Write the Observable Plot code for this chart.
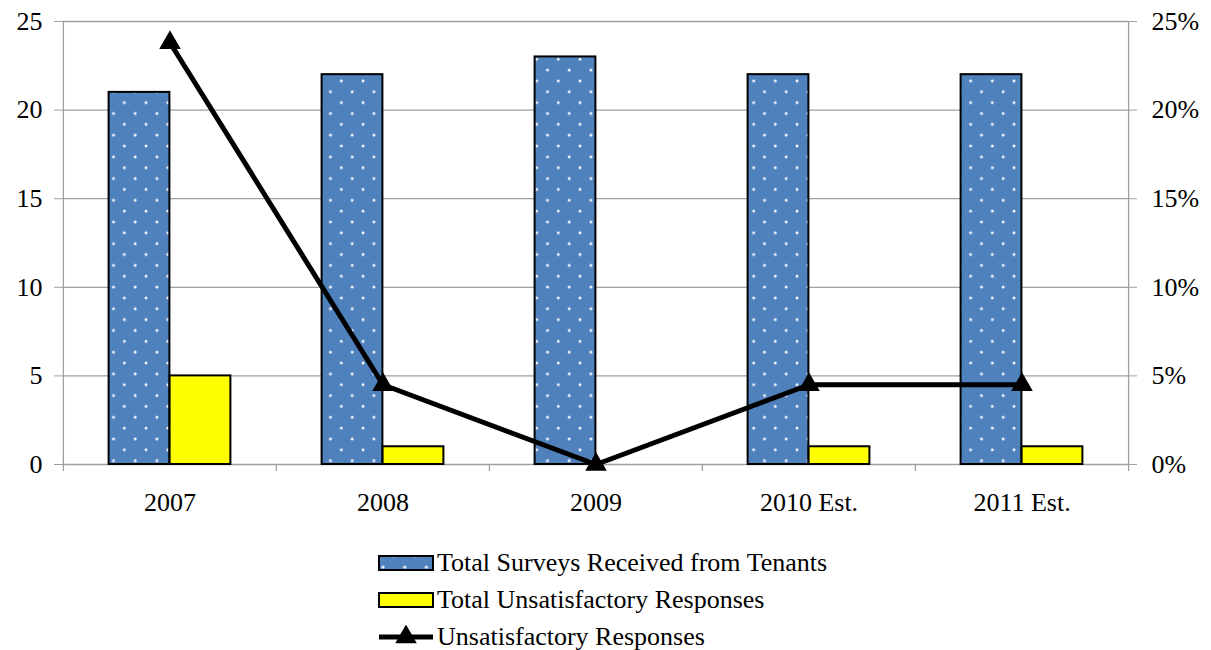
<!DOCTYPE html>
<html>
<head>
<meta charset="utf-8">
<script src="https://cdn.jsdelivr.net/npm/d3@7"></script>
<script src="https://cdn.jsdelivr.net/npm/@observablehq/plot@0.6"></script>
<style>
  body { margin: 0; background: #fff; font-family: 'Liberation Serif', serif; }
  #legend { margin-top: 14px; padding-left: 378px; font-size: 26px; line-height: 37px; color: #000; font-family: 'Liberation Serif', serif !important; }
  .item { display: flex; align-items: center; height: 37px; }
  .item svg { margin-right: 3px; }
  svg text { font-family: 'Liberation Serif', serif !important; }
</style>
</head>
<body>
<div id="chart"></div>
<div id="legend"></div>
<script>
const years = ["2007", "2008", "2009", "2010 Est.", "2011 Est."];
const totalSurveys = [21, 22, 23, 22, 22];
const unsatisfactory = [5, 1, 0, 1, 1];
const unsatPct = [23.8, 4.5, 0, 4.5, 4.5]; // percent
const yTicks = [0, 5, 10, 15, 20, 25];

const rows = years.map((y, i) => ({year: y, total: totalSurveys[i], unsat: unsatisfactory[i], pct: unsatPct[i]}));

const W = 1211, H = 530, mL = 62, mR = 83, mT = 21, mB = 66;
const bw = (W - mL - mR) / years.length;
const half = bw / 2;
const barW = 61;
const gray = "#a0a0a0";
const FONT = "'Liberation Serif', serif";

const plot = Plot.plot({
  width: W, height: H,
  marginLeft: mL, marginRight: mR, marginTop: mT, marginBottom: mB,
  style: {fontFamily: FONT, fontSize: "26px", color: "#000", background: "#fff"},
  x: {domain: years, padding: 0, label: null},
  y: {domain: [0, 25], label: null},
  marks: [
    Plot.ruleY(yTicks, {stroke: gray, strokeWidth: 1.3}),
    Plot.ruleX(years, {x: d => d, y1: -0.4, y2: 0, dx: -half, stroke: gray, strokeWidth: 1.3}),
    Plot.ruleX([years[0]], {x: d => d, y1: 0, y2: 25, dx: -half, stroke: gray, strokeWidth: 1.3}),
    Plot.ruleX([years[years.length - 1]], {x: d => d, y1: -0.4, y2: 25, dx: half, stroke: gray, strokeWidth: 1.3}),
    Plot.axisY({anchor: "left", ticks: yTicks, tickSize: 8, tickPadding: 12, stroke: gray, fontSize: 26, label: null}),
    Plot.axisY({anchor: "right", ticks: yTicks, tickSize: 8, tickPadding: 15, stroke: gray, fontSize: 26, label: null, tickFormat: d => d + "%"}),
    Plot.axisX({tickSize: 0, tickPadding: 28, fontSize: 26, label: null}),
    Plot.barY(rows, {x: "year", y: "total", fill: "url(#dots)", stroke: "#000", strokeWidth: 2,
      insetLeft: half - barW, insetRight: half}),
    Plot.barY(rows, {x: "year", y: "unsat", fill: "#ffff00", stroke: "#000", strokeWidth: 2,
      insetLeft: half, insetRight: half - barW}),
    Plot.line(rows, {x: "year", y: "pct", stroke: "#000", strokeWidth: 5}),
    Plot.dot(rows, {x: "year", y: "pct", symbol: "triangle", r: 8, fill: "#000", stroke: "none"})
  ]
});
d3.select(plot).style("font-family", FONT).selectAll("text").style("font-family", FONT);

const defs = d3.select(plot).insert("defs", ":first-child");
const pat = defs.append("pattern").attr("id", "dots").attr("patternUnits", "userSpaceOnUse")
  .attr("width", 21.7).attr("height", 21.7);
pat.append("rect").attr("width", 21.7).attr("height", 21.7).attr("fill", "#4f81bd");
pat.append("circle").attr("cx", 5).attr("cy", 5).attr("r", 1.5).attr("fill", "#f4f7fc");
pat.append("circle").attr("cx", 15.85).attr("cy", 15.85).attr("r", 1.5).attr("fill", "#f4f7fc");
document.getElementById("chart").appendChild(plot);

// legend
const legendItems = [
  {label: "Total Surveys Received from Tenants", kind: "dots"},
  {label: "Total Unsatisfactory Responses", kind: "yellow"},
  {label: "Unsatisfactory Responses", kind: "line"}
];
const lg = d3.select("#legend");
legendItems.forEach(it => {
  const row = lg.append("div").attr("class", "item");
  const s = row.append("svg").attr("width", 56).attr("height", 24);
  if (it.kind === "line") {
    s.append("line").attr("x1", 1).attr("x2", 55).attr("y1", 12).attr("y2", 12).attr("stroke", "#000").attr("stroke-width", 5);
    s.append("path").attr("d", d3.symbol(d3.symbolTriangle, Math.PI * 8 * 8)()).attr("transform", "translate(28,12)").attr("fill", "#000");
  } else {
    if (it.kind === "dots") {
      const p = s.append("defs").append("pattern").attr("id", "ldots").attr("patternUnits", "userSpaceOnUse").attr("width", 21.7).attr("height", 21.7);
      p.append("rect").attr("width", 21.7).attr("height", 21.7).attr("fill", "#4f81bd");
      p.append("circle").attr("cx", 5).attr("cy", 16).attr("r", 1.5).attr("fill", "#f4f7fc");
      p.append("circle").attr("cx", 15.85).attr("cy", 5).attr("r", 1.5).attr("fill", "#f4f7fc");
    }
    s.append("rect").attr("x", 1).attr("y", 5).attr("width", 54).attr("height", 14)
      .attr("fill", it.kind === "dots" ? "url(#ldots)" : "#ffff00").attr("stroke", "#000").attr("stroke-width", 2);
  }
  row.append("span").style("font-family", FONT).text(it.label);
});
</script>
</body>
</html>
